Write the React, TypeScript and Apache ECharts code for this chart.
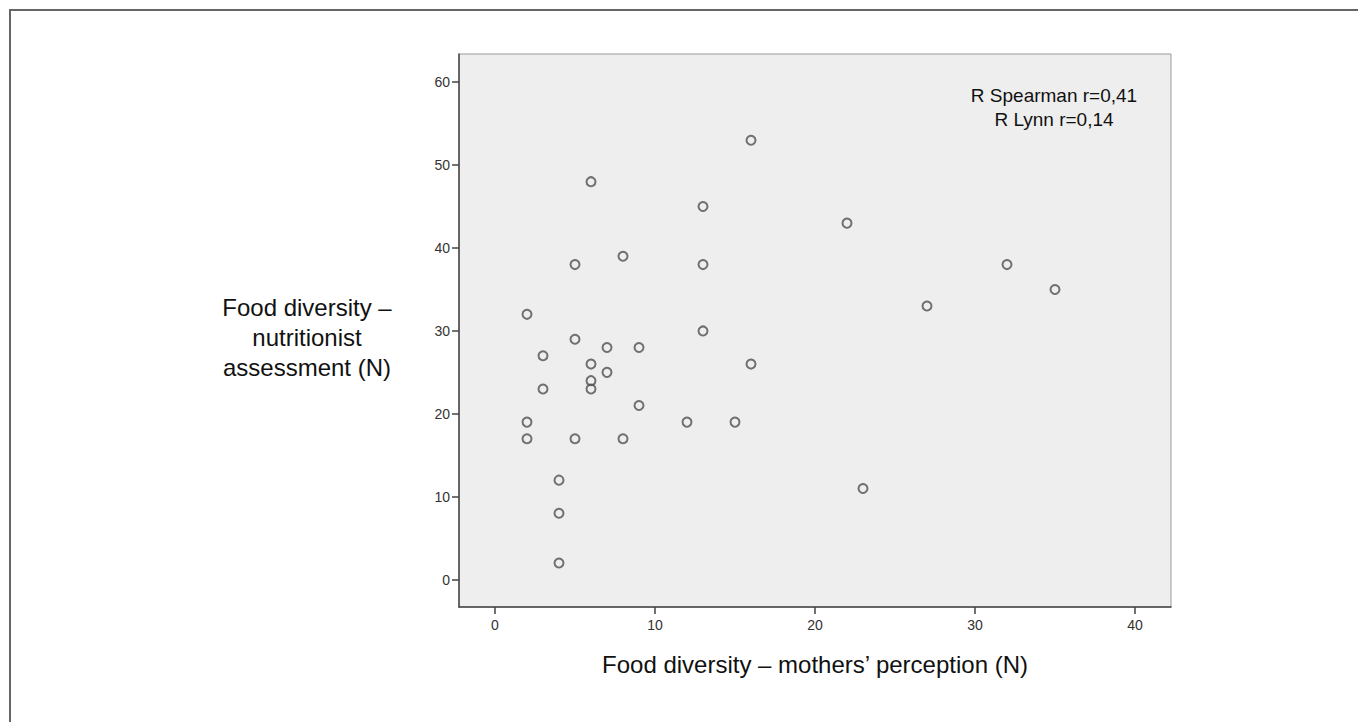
import React, { useEffect, useRef } from "react";
import * as echarts from "echarts";

const xValues = [16, 6, 13, 22, 5, 8, 13, 32, 35, 27, 2, 13, 5, 7, 9, 3, 6, 16, 7, 6, 6, 3, 9, 2, 12, 15, 2, 5, 8, 4, 23, 4, 4];
const yValues = [53, 48, 45, 43, 38, 39, 38, 38, 35, 33, 32, 30, 29, 28, 28, 27, 26, 26, 25, 24, 23, 23, 21, 19, 19, 19, 17, 17, 17, 12, 11, 8, 2];
const xTicks = [0, 10, 20, 30, 40];
const yTicks = [0, 10, 20, 30, 40, 50, 60];
const annotationLines = ["R Spearman r=0,41", "R Lynn r=0,14"];
const xTitle = "Food diversity \u2013 mothers\u2019 perception (N)";
const yTitle = "Food diversity \u2013\nnutritionist\nassessment (N)";

export default function App() {
  const ref = useRef<HTMLDivElement>(null);
  useEffect(() => {
    if (!ref.current) return;
    const chart = echarts.init(ref.current, null, { renderer: "svg" });
    const font = "Arial, 'Liberation Sans', sans-serif";
    const tickFont = "'Liberation Sans Narrow', Arial, 'Liberation Sans', sans-serif";
    const data = xValues.map((x, i) => [x, yValues[i]]);
    chart.setOption({
      animation: false,
      backgroundColor: "#ffffff",
      grid: {
        left: 459,
        top: 54,
        right: 1358 - 1171,
        bottom: 722 - 607,
        show: true,
        backgroundColor: "#eeeeee",
        borderColor: "#9a9a9a",
        borderWidth: 1,
      },
      xAxis: {
        type: "value",
        min: -2.25,
        max: 42.25,
        splitLine: { show: false },
        axisLine: { show: true, onZero: false, lineStyle: { color: "#444", width: 1.5 } },
        axisTick: { show: true, length: 7, customValues: xTicks, lineStyle: { color: "#444", width: 1.5 } },
        axisLabel: { customValues: xTicks, margin: 11, color: "#333", fontSize: 14, fontFamily: tickFont },
        name: xTitle,
        nameLocation: "middle",
        nameGap: 57,
        nameTextStyle: { fontSize: 24, color: "#111", fontFamily: font, verticalAlign: "middle" },
      },
      yAxis: {
        type: "value",
        min: -3.3,
        max: 63.4,
        splitLine: { show: false },
        axisLine: { show: true, onZero: false, lineStyle: { color: "#444", width: 1.5 } },
        axisTick: { show: true, length: 7, customValues: yTicks, lineStyle: { color: "#444", width: 1.5 } },
        axisLabel: { customValues: yTicks, margin: 9, color: "#333", fontSize: 14, fontFamily: tickFont },
      },
      series: [
        {
          type: "scatter",
          data,
          symbol: "circle",
          symbolSize: 9,
          itemStyle: { color: "transparent", borderColor: "#505050", borderWidth: 2 },
        },
      ],
      graphic: [
        {
          type: "rect",
          shape: { x: 10, y: 10, width: 1500, height: 900 },
          style: { fill: "none", stroke: "#666", lineWidth: 2 },
          silent: true,
        },
        {
          type: "text",
          x: 307,
          y: 337,
          style: {
            text: yTitle,
            fontSize: 24,
            lineHeight: 30,
            fill: "#111",
            fontFamily: font,
            align: "center",
            verticalAlign: "middle",
          },
        },
        {
          type: "text",
          x: 1054,
          y: 107,
          style: {
            text: annotationLines.join("\n"),
            fontSize: 19,
            lineHeight: 24,
            fill: "#111",
            fontFamily: font,
            align: "center",
            verticalAlign: "middle",
          },
        },
      ],
    });
    return () => chart.dispose();
  }, []);
  return <div ref={ref} style={{ width: 1358, height: 722, position: "absolute", left: 0, top: 0 }} />;
}
